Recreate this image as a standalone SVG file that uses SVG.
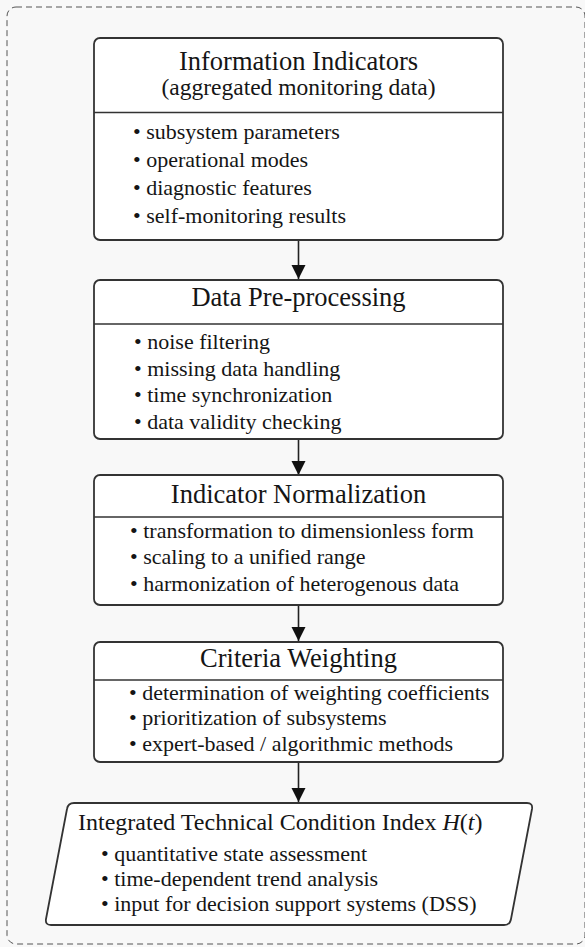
<svg xmlns="http://www.w3.org/2000/svg" width="585" height="947" viewBox="0 0 585 947">
<style>
  .bg{fill:#f8f8f8}
  .frame{fill:none;stroke:#555;stroke-width:1;stroke-dasharray:6 4}
  .box{fill:#ffffff;stroke:#333;stroke-width:1.8}
  .div{stroke:#333;stroke-width:1.5}
  text{font-family:"Liberation Serif","Times New Roman",serif;fill:#151515}
  .t{font-size:26.5px;text-anchor:middle}
  .st{font-size:23.5px;text-anchor:middle}
  .b{font-size:22px}
  .bt{font-size:24px}
  .conn{stroke:#222;stroke-width:1.6;fill:none}
</style>
<defs>
  <marker id="ah" markerUnits="userSpaceOnUse" markerWidth="14" markerHeight="15" refX="14" refY="7" orient="auto">
    <path d="M0,0 L14,7 L0,14 Z" fill="#111"/>
  </marker>
</defs>
<rect class="bg" x="0" y="0" width="585" height="947"/>
<rect class="frame" x="7" y="7" width="578" height="937" rx="9"/>

<g id="connectors">
  <line class="conn" x1="298.5" y1="240" x2="298.5" y2="279" marker-end="url(#ah)"/>
  <line class="conn" x1="298.5" y1="439" x2="298.5" y2="475" marker-end="url(#ah)"/>
  <line class="conn" x1="298.5" y1="605" x2="298.5" y2="641" marker-end="url(#ah)"/>
  <line class="conn" x1="298.5" y1="762" x2="298.5" y2="802" marker-end="url(#ah)"/>
</g>

<g id="info-indicators">
  <rect class="box" x="94" y="38" width="409" height="202" rx="6"/>
  <line class="div" x1="94" y1="112.5" x2="503" y2="112.5"/>
  <text class="t" x="298.5" y="70">Information Indicators</text>
  <text class="st" x="298.5" y="95">(aggregated monitoring data)</text>
  <text class="b" x="133" y="139">• subsystem parameters</text>
  <text class="b" x="133" y="167">• operational modes</text>
  <text class="b" x="133" y="195">• diagnostic features</text>
  <text class="b" x="133" y="223">• self-monitoring results</text>
</g>

<g id="pre-processing">
  <rect class="box" x="94" y="280" width="409" height="159" rx="6"/>
  <line class="div" x1="94" y1="324" x2="503" y2="324"/>
  <text class="t" x="298.5" y="306">Data Pre-processing</text>
  <text class="b" x="134" y="349">• noise filtering</text>
  <text class="b" x="134" y="376">• missing data handling</text>
  <text class="b" x="134" y="402">• time synchronization</text>
  <text class="b" x="134" y="429">• data validity checking</text>
</g>

<g id="normalization">
  <rect class="box" x="94" y="475" width="409" height="130" rx="6"/>
  <line class="div" x1="94" y1="517" x2="503" y2="517"/>
  <text class="t" x="298.5" y="503">Indicator Normalization</text>
  <text class="b" x="130" y="538">• transformation to dimensionless form</text>
  <text class="b" x="130" y="564">• scaling to a unified range</text>
  <text class="b" x="130" y="591">• harmonization of heterogenous data</text>
</g>

<g id="weighting">
  <rect class="box" x="94" y="642" width="409" height="120" rx="6"/>
  <line class="div" x1="94" y1="680" x2="503" y2="680"/>
  <text class="t" x="298.5" y="667">Criteria Weighting</text>
  <text class="b" x="129" y="700">• determination of weighting coefficients</text>
  <text class="b" x="129" y="725">• prioritization of subsystems</text>
  <text class="b" x="129" y="751">• expert-based / algorithmic methods</text>
</g>

<g id="index">
  <path class="box" d="M74,803 L527,803 Q533,803 532,809 L511,919 Q510,925 504,925 L51,925 Q45,925 46,919 L67,809 Q68,803 74,803 Z"/>
  <text class="bt" x="78" y="830">Integrated Technical Condition Index <tspan font-style="italic">H</tspan>(<tspan font-style="italic">t</tspan>)</text>
  <text class="b" x="101" y="861">• quantitative state assessment</text>
  <text class="b" x="101" y="886">• time-dependent trend analysis</text>
  <text class="b" x="101" y="911">• input for decision support systems (DSS)</text>
</g>
</svg>
